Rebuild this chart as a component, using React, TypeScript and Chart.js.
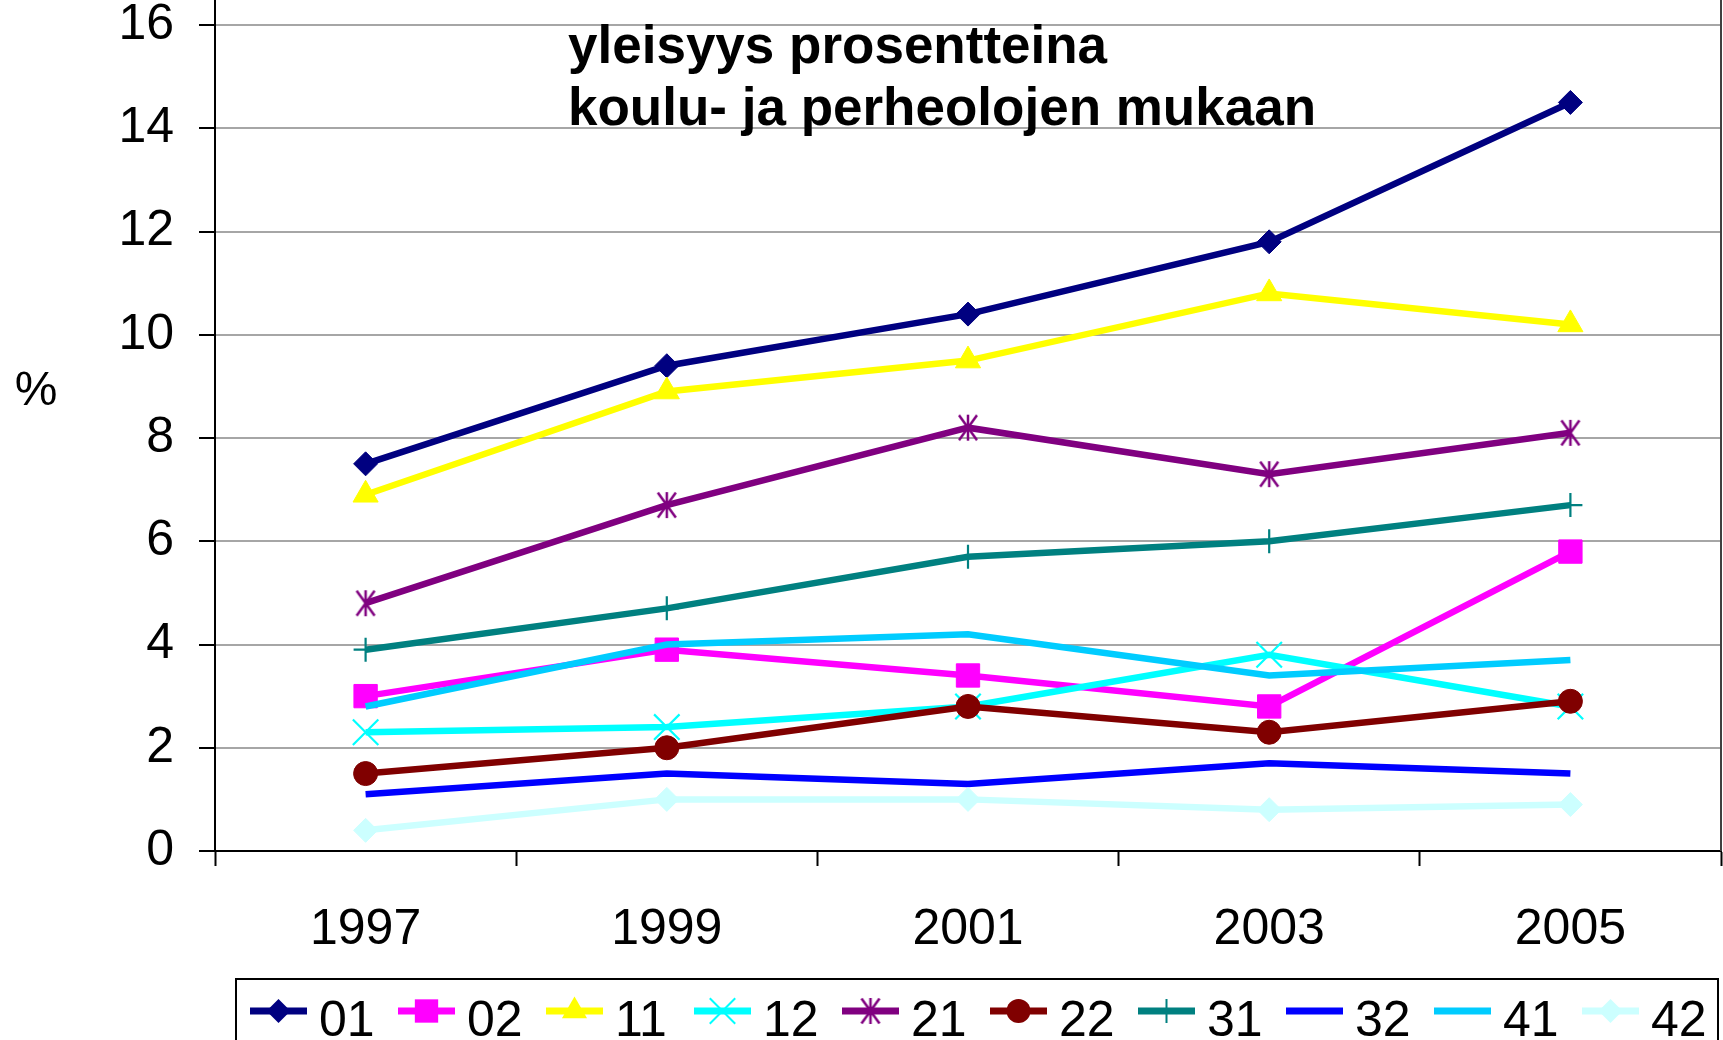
import React, { useEffect, useRef } from 'react';
import { Chart, registerables } from 'chart.js';

Chart.register(...registerables);

// ---------- data ----------
const years = ['1997', '1999', '2001', '2003', '2005'];
const seriesNames = ['01', '02', '11', '12', '21', '22', '31', '32', '41', '42'];
const s01 = [7.5, 9.4, 10.4, 11.8, 14.5];
const s02 = [3.0, 3.9, 3.4, 2.8, 5.8];
const s11 = [6.9, 8.9, 9.5, 10.8, 10.2];
const s12 = [2.3, 2.4, 2.8, 3.8, 2.8];
const s21 = [4.8, 6.7, 8.2, 7.3, 8.1];
const s22 = [1.5, 2.0, 2.8, 2.3, 2.9];
const s31 = [3.9, 4.7, 5.7, 6.0, 6.7];
const s32 = [1.1, 1.5, 1.3, 1.7, 1.5];
const s41 = [2.8, 4.0, 4.2, 3.4, 3.7];
const s42 = [0.4, 1.0, 1.0, 0.8, 0.9];
const seriesValues = [s01, s02, s11, s12, s21, s22, s31, s32, s41, s42];
const yMin = 0;
const yMax = 18;
const yStep = 2;
const titleLines = ['yleisyys prosentteina', 'koulu- ja perheolojen mukaan'];
const yAxisLabel = '%';

// ---------- styles ----------
const colors = ['#000080', '#FF00FF', '#FFFF00', '#00FFFF', '#800080', '#800000', '#008080', '#0000FF', '#00CCFF', '#CCFFFF'];
const markerStyles = ['rectRot', 'rect', 'triangle', 'crossRot', 'star6', 'circle', 'cross', 'none', 'none', 'rectRot'];
const markerRadii = [12, 16.5, 14.5, 18, 13, 12, 12, 0, 0, 12];

const W = 1723;
const OFF = 120;
const H = 1040 + OFF;
const FONT = '"Liberation Sans", Arial, sans-serif';
const AXIS_Y0 = 851; // page y of value 0
const UNIT = (851 - 25) / 16;

function makeStar(color: string): HTMLCanvasElement {
  const c = document.createElement('canvas');
  c.width = 32;
  c.height = 32;
  const g = c.getContext('2d')!;
  g.strokeStyle = color;
  g.lineWidth = 2.5;
  g.beginPath();
  g.moveTo(16 - 9, 16 - 12.5);
  g.lineTo(16 + 9, 16 + 12.5);
  g.moveTo(16 - 9, 16 + 12.5);
  g.lineTo(16 + 9, 16 - 12.5);
  g.moveTo(16, 16 - 13);
  g.lineTo(16, 16 + 13);
  g.stroke();
  return c;
}

function drawMarker(ctx: CanvasRenderingContext2D, style: any, x: number, y: number, r: number, color: string) {
  if (style === 'none' || !style) return;
  ctx.save();
  ctx.fillStyle = color;
  ctx.strokeStyle = color;
  ctx.lineWidth = 2;
  if (typeof style !== 'string') {
    ctx.drawImage(style, x - style.width / 2, y - style.height / 2);
    ctx.restore();
    return;
  }
  ctx.beginPath();
  if (style === 'rectRot') {
    ctx.moveTo(x - r, y);
    ctx.lineTo(x, y - r);
    ctx.lineTo(x + r, y);
    ctx.lineTo(x, y + r);
    ctx.closePath();
    ctx.fill();
  } else if (style === 'rect') {
    const s = r * Math.SQRT1_2;
    ctx.rect(x - s, y - s, 2 * s, 2 * s);
    ctx.fill();
  } else if (style === 'triangle') {
    ctx.moveTo(x, y - r);
    ctx.lineTo(x + r * Math.sin(Math.PI / 3), y + r / 2);
    ctx.lineTo(x - r * Math.sin(Math.PI / 3), y + r / 2);
    ctx.closePath();
    ctx.fill();
  } else if (style === 'circle') {
    ctx.arc(x, y, r, 0, Math.PI * 2);
    ctx.fill();
  } else if (style === 'crossRot') {
    const s = r * Math.SQRT1_2;
    ctx.moveTo(x - s, y - s);
    ctx.lineTo(x + s, y + s);
    ctx.moveTo(x - s, y + s);
    ctx.lineTo(x + s, y - s);
    ctx.stroke();
  } else if (style === 'cross') {
    ctx.moveTo(x - r, y);
    ctx.lineTo(x + r, y);
    ctx.moveTo(x, y - r);
    ctx.lineTo(x, y + r);
    ctx.stroke();
  }
  ctx.restore();
}

export default function App() {
  const ref = useRef<HTMLCanvasElement>(null);

  useEffect(() => {
    const canvas = ref.current!;
    const star = makeStar(colors[4]);
    const styles = markerStyles.map((s) => (s === 'star6' ? star : s));

    const datasets = seriesNames.map((name, i) => ({
      label: name,
      data: seriesValues[i],
      borderColor: colors[i],
      backgroundColor: colors[i],
      borderWidth: 6.5,
      pointStyle: styles[i] === 'none' ? false : (styles[i] as any),
      pointRadius: markerRadii[i],
      pointBackgroundColor: colors[i],
      pointBorderColor: colors[i],
      pointBorderWidth: styles[i] === 'crossRot' || styles[i] === 'cross' ? 2.2 : 1,
      tension: 0,
      order: seriesNames.length - i,
      clip: false as any,
    }));

    const overlay = {
      id: 'overlay',
      afterDraw(chart: any) {
        const ctx: CanvasRenderingContext2D = chart.ctx;
        const area = chart.chartArea;
        ctx.save();
        // right plot border
        ctx.strokeStyle = '#404040';
        ctx.lineWidth = 2;
        ctx.beginPath();
        ctx.moveTo(area.right, area.top);
        ctx.lineTo(area.right, area.bottom);
        ctx.stroke();

        // title lines
        ctx.fillStyle = '#000';
        ctx.font = `bold 53px ${FONT}`;
        ctx.textAlign = 'left';
        ctx.textBaseline = 'alphabetic';
        ctx.fillText(titleLines[0], 568, 63 + OFF);
        ctx.fillText(titleLines[1], 568, 125 + OFF);

        // y axis label
        ctx.font = `48px ${FONT}`;
        ctx.textAlign = 'center';
        ctx.textBaseline = 'middle';
        ctx.fillText(yAxisLabel, 36, 392 + OFF);

        // legend
        const boxL = 236;
        const boxR = 1718;
        const boxT = 979 + OFF;
        ctx.strokeStyle = '#000';
        ctx.lineWidth = 2;
        ctx.strokeRect(boxL, boxT, boxR - boxL, H - boxT + 20);
        chart.data.datasets.forEach((ds: any, i: number) => {
          const x0 = 250 + i * 148;
          const y = 1011 + OFF;
          ctx.strokeStyle = ds.borderColor;
          ctx.lineWidth = 7;
          ctx.beginPath();
          ctx.moveTo(x0, y);
          ctx.lineTo(x0 + 57, y);
          ctx.stroke();
          drawMarker(ctx, styles[i], x0 + 28.5, y, markerRadii[i], ds.borderColor);
          ctx.fillStyle = '#000';
          ctx.font = `50px ${FONT}`;
          ctx.textAlign = 'left';
          ctx.textBaseline = 'alphabetic';
          ctx.fillText(ds.label, x0 + 69, 1036 + OFF);
        });
        ctx.restore();
      },
    };

    const chartTop = AXIS_Y0 + OFF - yMax * UNIT;

    const chart = new Chart(canvas, {
      type: 'line',
      data: { labels: years, datasets: datasets as any },
      options: {
        animation: false,
        responsive: false,
        maintainAspectRatio: false,
        devicePixelRatio: 1,
        layout: { autoPadding: false, padding: { top: chartTop, right: 2, left: 0, bottom: 0 } },
        plugins: {
          legend: { display: false },
          tooltip: { enabled: false },
          title: { display: false },
        },
        scales: {
          x: {
            type: 'category',
            offset: true,
            grid: {
              display: true,
              drawOnChartArea: false,
              drawTicks: true,
              tickLength: 15,
              tickColor: '#000',
              tickWidth: 2,
              offset: true,
            },
            border: { display: true, color: '#000', width: 2 },
            ticks: {
              font: { family: FONT, size: 50 },
              color: '#000',
              padding: 34,
              maxRotation: 0,
              autoSkip: false,
            },
            afterFit: (s: any) => {
              s.height = H - (AXIS_Y0 + OFF);
              s.paddingLeft = 0;
              s.paddingRight = 0;
              s.paddingTop = 0;
              s.paddingBottom = 0;
            },
          },
          y: {
            min: yMin,
            max: yMax,
            ticks: {
              stepSize: yStep,
              padding: 25,
              font: { family: FONT, size: 50 },
              color: '#000',
            },
            grid: {
              color: '#a6a6a6',
              lineWidth: 2,
              tickLength: 16,
              tickColor: '#000',
              tickWidth: 2,
            },
            border: { display: true, color: '#000', width: 2 },
            afterFit: (s: any) => {
              s.width = 215;
              s.paddingLeft = 0;
              s.paddingRight = 0;
              s.paddingTop = 0;
              s.paddingBottom = 0;
            },
          },
        },
      },
      plugins: [overlay],
    });

    return () => chart.destroy();
  }, []);

  return (
    <div style={{ position: 'absolute', left: 0, top: 0, width: W, height: 1040, overflow: 'hidden', background: '#fff' }}>
      <canvas
        ref={ref}
        width={W}
        height={H}
        style={{ position: 'absolute', left: 0, top: -OFF, width: W, height: H, display: 'block' }}
      />
    </div>
  );
}
